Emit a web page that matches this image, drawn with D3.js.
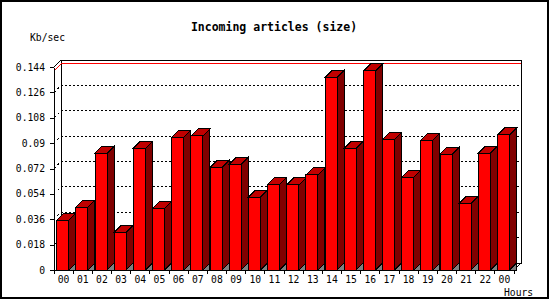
<!DOCTYPE html>
<html>
<head>
<meta charset="utf-8">
<script src="https://cdn.jsdelivr.net/npm/d3@7"></script>
<style>
  body { margin: 0; background: #fff; }
  svg text { font-family: "DejaVu Sans Mono", monospace; font-size: 9.7px; fill: #000; }
</style>
</head>
<body>
<div class="chart"></div>
<script>
// values, one per hour
const HOURS = ["00", "01", "02", "03", "04", "05", "06", "07", "08", "09", "10", "11",
  "12", "13", "14", "15", "16", "17", "18", "19", "20", "21", "22", "00"];
const VALUES = [0.0353, 0.0445, 0.0828, 0.0267, 0.0863, 0.0438, 0.0943, 0.0951,
  0.0728, 0.0750, 0.0516, 0.0608, 0.0603, 0.0674, 0.1367, 0.0863, 0.1412, 0.0927,
  0.0658, 0.0922, 0.0821, 0.0473, 0.0828, 0.0958];
const Y_TICKS = [0, 0.018, 0.036, 0.054, 0.072, 0.09, 0.108, 0.126, 0.144];
const Y_LABELS = ["0", "0.018", "0.036", "0.054", "0.072", "0.09", "0.108", "0.126", "0.144"];

const TITLE = "Incoming articles (size)";
const Y_TITLE = "Kb/sec";
const X_TITLE = "Hours";

const width = 550, height = 300;
const DEPTH = 7; // 3d offset, right and up
const plotLeft = 54, plotRight = 514, plotBottom = 270, plotTop = 67;

const svg = d3.select(".chart").append("svg")
  .attr("width", width)
  .attr("height", height)
  .attr("shape-rendering", "crispEdges");

// outer frame
svg.append("rect")
  .attr("x", 1).attr("y", 1)
  .attr("width", width - 3).attr("height", height - 3)
  .attr("fill", "#fff").attr("stroke", "#000").attr("stroke-width", 2);

const xScale = d3.scaleBand()
  .domain(d3.range(HOURS.length))
  .range([plotLeft, plotRight]);
const yScale = d3.scaleLinear()
  .domain([0, d3.max(Y_TICKS)])
  .range([plotBottom, plotTop]);

const step = xScale.step();
const barW = step * 0.63;
const barOff = step * 0.14;

// back wall
const wall = svg.append("g");
wall.append("rect")
  .attr("x", plotLeft + DEPTH).attr("y", plotTop - DEPTH)
  .attr("width", plotRight - plotLeft).attr("height", plotBottom - plotTop)
  .attr("fill", "#fff").attr("stroke", "#000");

// dotted grid on back wall plus little stubs on left wall
const gridVals = Y_TICKS.slice(1, -1);
wall.selectAll(".grid").data(gridVals).join("line")
  .attr("class", "grid")
  .attr("x1", plotLeft + DEPTH).attr("x2", plotRight + DEPTH)
  .attr("y1", d => yScale(d) - DEPTH).attr("y2", d => yScale(d) - DEPTH)
  .attr("stroke", "#000").attr("stroke-dasharray", "2,2");
wall.selectAll(".stub").data(gridVals).join("line")
  .attr("class", "stub")
  .attr("x1", plotLeft).attr("x2", plotLeft + DEPTH)
  .attr("y1", d => yScale(d)).attr("y2", d => yScale(d) - DEPTH)
  .attr("stroke", "#000").attr("stroke-dasharray", "2,3");

// top-left and bottom-right diagonals of the box
wall.append("line")
  .attr("x1", plotLeft).attr("y1", plotTop)
  .attr("x2", plotLeft + DEPTH).attr("y2", plotTop - DEPTH)
  .attr("stroke", "#000");
wall.append("line")
  .attr("x1", plotRight).attr("y1", plotBottom)
  .attr("x2", plotRight + DEPTH).attr("y2", plotBottom - DEPTH)
  .attr("stroke", "#000");

// red max line
const maxV = d3.max(VALUES);
wall.append("line")
  .attr("x1", plotLeft + DEPTH).attr("x2", plotRight + DEPTH)
  .attr("y1", yScale(maxV) - DEPTH).attr("y2", yScale(maxV) - DEPTH)
  .attr("stroke", "#f00");
wall.append("line")
  .attr("x1", plotLeft).attr("x2", plotLeft + DEPTH)
  .attr("y1", yScale(maxV)).attr("y2", yScale(maxV) - DEPTH)
  .attr("stroke", "#f00");

// bars
const bars = svg.append("g").selectAll("g").data(VALUES).join("g");
const bx = (d, i) => xScale(i) + barOff;

// floor shadow under the side face
bars.append("polygon")
  .attr("points", (d, i) => {
    const x = bx(d, i) + barW;
    return [[x, plotBottom], [x + DEPTH, plotBottom - DEPTH], [x + DEPTH, plotBottom]].join(" ");
  })
  .attr("fill", "#808080").attr("stroke", "#000");

bars.append("polygon")
  .attr("points", (d, i) => {
    const x = bx(d, i) + barW, y = yScale(d);
    return [[x, y], [x + DEPTH, y - DEPTH], [x + DEPTH, plotBottom - DEPTH], [x, plotBottom]].join(" ");
  })
  .attr("fill", "#800000").attr("stroke", "#000");

bars.append("polygon")
  .attr("points", (d, i) => {
    const x = bx(d, i), y = yScale(d);
    return [[x, y], [x + DEPTH, y - DEPTH], [x + barW + DEPTH, y - DEPTH], [x + barW, y]].join(" ");
  })
  .attr("fill", "#c00000").attr("stroke", "#000");

bars.append("rect")
  .attr("x", bx)
  .attr("y", d => yScale(d))
  .attr("width", barW)
  .attr("height", d => plotBottom - yScale(d))
  .attr("fill", "#f00").attr("stroke", "#000");

// y axis
svg.append("g")
  .attr("transform", `translate(${plotLeft},0)`)
  .call(d3.axisLeft(yScale)
    .tickValues(Y_TICKS)
    .tickFormat((d, i) => Y_LABELS[i])
    .tickSize(4).tickSizeOuter(0).tickPadding(5))
  .attr("font-family", null).attr("font-size", null);

// x axis: labels centred in slots, ticks on slot edges
const xAxis = svg.append("g")
  .attr("transform", `translate(0,${plotBottom})`)
  .call(d3.axisBottom(xScale)
    .tickFormat(i => HOURS[i])
    .tickSize(0).tickSizeOuter(0).tickPadding(6))
  .attr("font-family", null).attr("font-size", null);

xAxis.selectAll(".edge")
  .data(d3.range(HOURS.length + 1))
  .join("line")
  .attr("class", "edge")
  .attr("x1", i => plotLeft + i * step).attr("x2", i => plotLeft + i * step)
  .attr("y1", 0).attr("y2", 4)
  .attr("stroke", "#000");

// titles
svg.append("text")
  .attr("x", 274).attr("y", 30.5)
  .attr("text-anchor", "middle")
  .style("font-size", "11.5px").style("font-weight", "bold")
  .text(TITLE);

svg.append("text")
  .attr("x", 30).attr("y", 40.5)
  .text(Y_TITLE);

svg.append("text")
  .attr("x", 504).attr("y", 296)
  .text(X_TITLE);
</script>
</body>
</html>
